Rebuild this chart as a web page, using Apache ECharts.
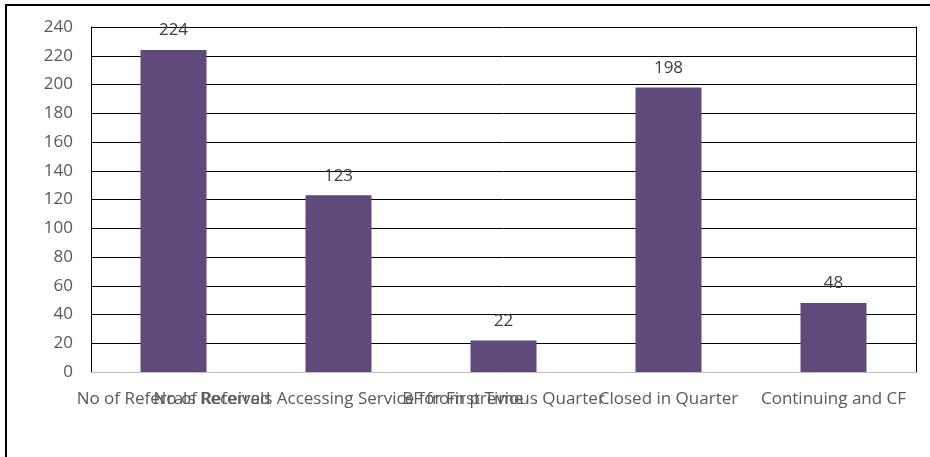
<!DOCTYPE html>
<html>
<head>
<meta charset="utf-8">
<script src="https://cdn.jsdelivr.net/npm/echarts@6/dist/echarts.min.js"></script>
<style>
html,body{margin:0;padding:0;background:#fff;}
#chart{width:930px;height:457px;}
</style>
</head>
<body>
<div id="chart"></div>
<script>
var categories = [
  "No of Referrals Received",
  "No of Referrals Accessing Service for First Time",
  "BF from previous Quarter",
  "Closed in Quarter",
  "Continuing and CF"
];
var values = [224, 123, 22, 198, 48];
var yTicks = [0, 240, 20];

var chart = echarts.init(document.getElementById('chart'), null, {renderer: 'canvas'});
var font = "'Open Sans', sans-serif";
chart.setOption({
  animation: false,
  backgroundColor: '#ffffff',
  grid: {left: 91, top: 27, right: 14, bottom: 85, containLabel: false},
  graphic: [{
    type: 'rect',
    shape: {x: 6, y: 5, width: 940, height: 470},
    style: {fill: 'none', stroke: '#000', lineWidth: 2},
    silent: true
  }],
  xAxis: {
    type: 'category',
    data: categories,
    axisTick: {show: false},
    axisLine: {show: true, lineStyle: {color: '#bfbfbf', width: 1}},
    axisLabel: {
      interval: 0, hideOverlap: false, margin: 19,
      color: '#595959', fontFamily: font, fontSize: 17
    }
  },
  yAxis: [{
    type: 'value',
    min: yTicks[0], max: yTicks[1], interval: yTicks[2],
    axisLine: {show: true, lineStyle: {color: '#000', width: 1}},
    axisTick: {show: false},
    axisLabel: {margin: 18, color: '#595959', fontFamily: font, fontSize: 17},
    splitLine: {show: true, showMinLine: false, lineStyle: {color: '#000', width: 1}}
  }, {
    type: 'value',
    position: 'right',
    min: yTicks[0], max: yTicks[1], interval: yTicks[2],
    axisLine: {show: true, lineStyle: {color: '#000', width: 1}},
    axisTick: {show: false},
    axisLabel: {show: false},
    splitLine: {show: false}
  }],
  series: [{
    type: 'bar',
    data: values,
    barWidth: '40%',
    itemStyle: {color: '#604a7b'},
    label: {
      show: true, position: 'top', distance: 11,
      color: '#404040', fontFamily: font, fontSize: 17
    }
  }]
});
</script>
</body>
</html>
